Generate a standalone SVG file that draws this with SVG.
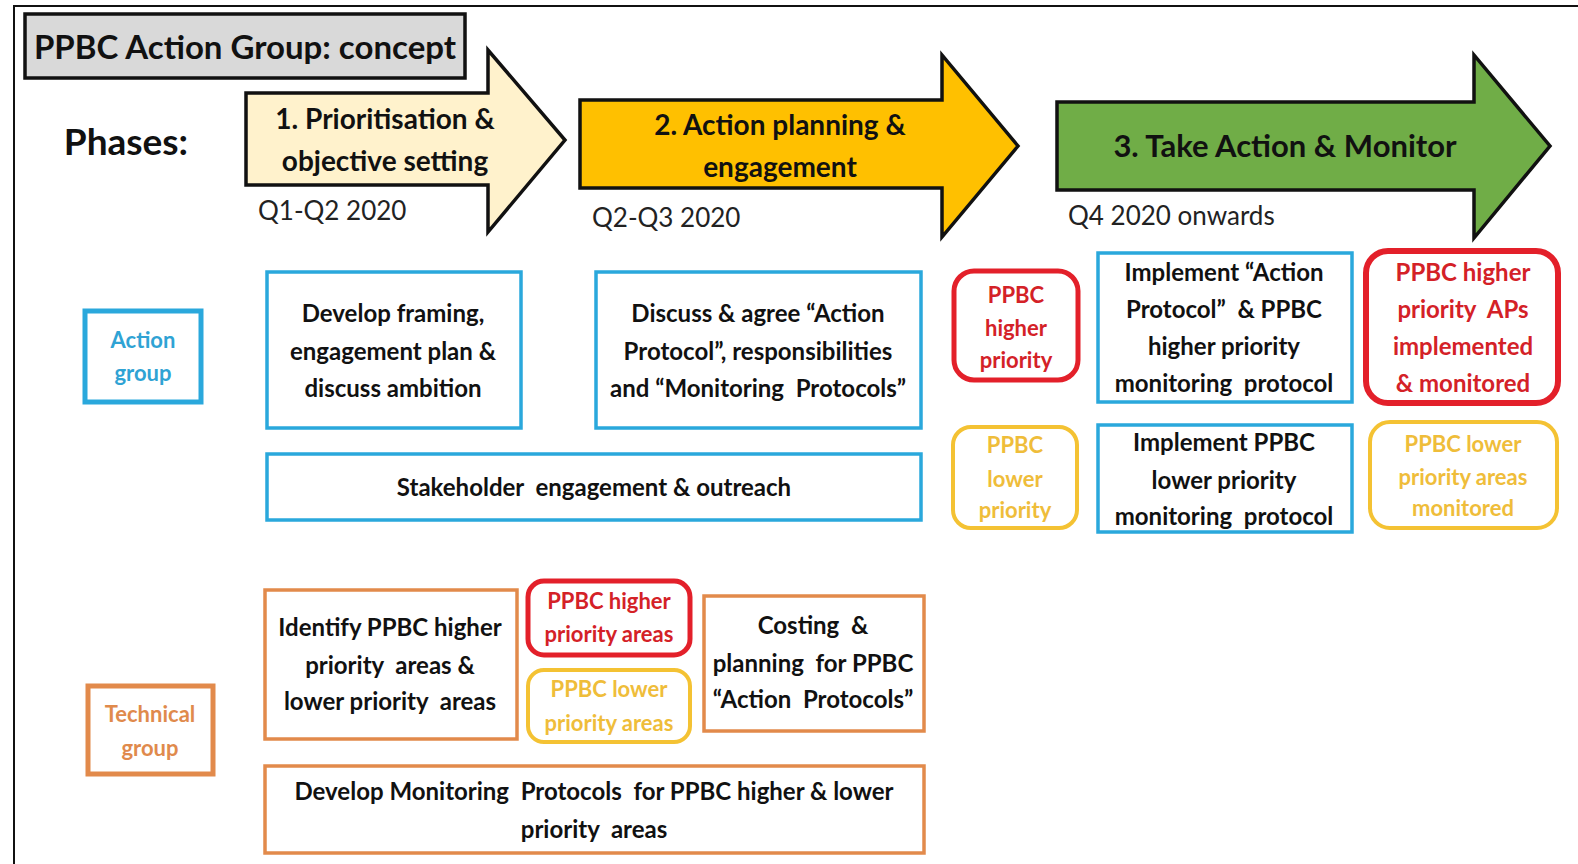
<svg xmlns="http://www.w3.org/2000/svg" width="1578" height="864" viewBox="0 0 1578 864">
<style>
text{font-family:Lato,"Open Sans","Liberation Sans",sans-serif;text-anchor:middle;white-space:pre}
.b{font-weight:bold;fill:#111}
.box{fill:#fff;stroke-width:3.5}
.blue{stroke:#2aa8dc}
.org{stroke:#e28a4b}
.red{fill:#fff;stroke:#e3202a;stroke-width:5}
.yel{fill:#fff;stroke:#f4c233;stroke-width:4}
.tr{fill:#d42127;font-weight:bold}
.ty{fill:#efbd3a;font-weight:bold}
.arrow{stroke:#111;stroke-width:3.5;stroke-linejoin:miter}
.q{fill:#222;text-anchor:start;font-size:26px}
.body{font-size:24px}
</style>
<rect width="1578" height="864" fill="#fff"/>
<path d="M14,864 V6 H1578" fill="none" stroke="#111" stroke-width="2"/>

<g id="title">
<rect x="25" y="14" width="440" height="64" fill="#d9d9d9" stroke="#111" stroke-width="3.5"/>
<text x="245" y="59" class="b" style="font-size:33px">PPBC Action Group: concept</text>
</g>
<g id="phases-label"><text x="126" y="155" class="b" style="font-size:37px">Phases:</text></g>

<g id="phase1">
<path class="arrow" fill="#fff2cc" d="M246,93 H488 V50 L565,140 L488,232 V185 H246 Z"/>
<text x="385" y="129" class="b" style="font-size:28px">1. Prioritisation &amp;</text>
<text x="385" y="171" class="b" style="font-size:28px">objective setting</text>
<text x="258" y="220" class="q">Q1-Q2 2020</text>
</g>
<g id="phase2">
<path class="arrow" fill="#ffc000" d="M580,100 H942 V55 L1018,146 L942,237 V188 H580 Z"/>
<text x="780" y="135" class="b" style="font-size:28px">2. Action planning &amp;</text>
<text x="780" y="177" class="b" style="font-size:28px">engagement</text>
<text x="592" y="227" class="q">Q2-Q3 2020</text>
</g>
<g id="phase3">
<path class="arrow" fill="#70ad47" d="M1057,102 H1474 V55 L1550,146 L1474,238 V190 H1057 Z"/>
<text x="1285" y="157" class="b" style="font-size:31px">3. Take Action &amp; Monitor</text>
<text x="1068" y="225" class="q">Q4 2020 onwards</text>
</g>

<g id="action-group">
<rect x="85" y="311" width="116" height="91" fill="#fff" stroke="#2aa8dc" stroke-width="5"/>
<text x="143" y="348" style="font-size:22px;font-weight:bold;fill:#2fa3d4">Action</text>
<text x="143" y="381" style="font-size:22px;font-weight:bold;fill:#2fa3d4">group</text>
</g>

<g id="develop-framing">
<rect class="box blue" x="267" y="272" width="254" height="156"/>
<text x="393" y="322" class="b body">Develop framing,</text>
<text x="393" y="360" class="b body">engagement plan &amp;</text>
<text x="393" y="397" class="b body">discuss ambition</text>
</g>
<g id="discuss-agree">
<rect class="box blue" x="596" y="272" width="325" height="156"/>
<text x="758" y="322" class="b body">Discuss &amp; agree “Action</text>
<text x="758" y="360" class="b body">Protocol”, responsibilities</text>
<text x="758" y="397" class="b body">and “Monitoring  Protocols”</text>
</g>
<g id="stakeholder">
<rect class="box blue" x="267" y="454" width="654" height="66"/>
<text x="594" y="496" class="b body">Stakeholder  engagement &amp; outreach</text>
</g>

<g id="ppbc-higher-1">
<rect class="red" x="954" y="271" width="124" height="109" rx="20"/>
<text x="1016" y="303" class="tr" style="font-size:22px">PPBC</text>
<text x="1016" y="336" class="tr" style="font-size:22px">higher</text>
<text x="1016" y="368" class="tr" style="font-size:22px">priority</text>
</g>
<g id="ppbc-lower-1">
<rect class="yel" x="953" y="427" width="124" height="101" rx="18"/>
<text x="1015" y="453" class="ty" style="font-size:22px">PPBC</text>
<text x="1015" y="487" class="ty" style="font-size:22px">lower</text>
<text x="1015" y="518" class="ty" style="font-size:22px">priority</text>
</g>
<g id="implement-higher">
<rect class="box blue" x="1098" y="253" width="254" height="149"/>
<text x="1224" y="281" class="b body">Implement “Action</text>
<text x="1224" y="318" class="b body">Protocol”  &amp; PPBC</text>
<text x="1224" y="355" class="b body">higher priority</text>
<text x="1224" y="392" class="b body">monitoring  protocol</text>
</g>
<g id="implement-lower">
<rect class="box blue" x="1098" y="425" width="254" height="107"/>
<text x="1224" y="451" class="b body">Implement PPBC</text>
<text x="1224" y="489" class="b body">lower priority</text>
<text x="1224" y="525" class="b body">monitoring  protocol</text>
</g>
<g id="higher-implemented">
<rect class="red" x="1366" y="251" width="192" height="152" rx="22" style="stroke-width:6"/>
<text x="1463" y="281" class="tr" style="font-size:24px">PPBC higher</text>
<text x="1463" y="318" class="tr" style="font-size:24px">priority  APs</text>
<text x="1463" y="355" class="tr" style="font-size:24px">implemented</text>
<text x="1463" y="392" class="tr" style="font-size:24px">&amp; monitored</text>
</g>
<g id="lower-monitored">
<rect class="yel" x="1370" y="422" width="187" height="106" rx="20"/>
<text x="1463" y="452" class="ty" style="font-size:22px">PPBC lower</text>
<text x="1463" y="485" class="ty" style="font-size:22px">priority areas</text>
<text x="1463" y="516" class="ty" style="font-size:22px">monitored</text>
</g>

<g id="technical-group">
<rect x="88" y="686" width="125" height="88" fill="#fff" stroke="#e28a4b" stroke-width="5"/>
<text x="150" y="722" style="font-size:22px;font-weight:bold;fill:#e08a4c">Technical</text>
<text x="150" y="756" style="font-size:22px;font-weight:bold;fill:#e08a4c">group</text>
</g>
<g id="identify">
<rect class="box org" x="265" y="590" width="252" height="149"/>
<text x="390" y="636" class="b body">Identify PPBC higher</text>
<text x="390" y="674" class="b body">priority  areas &amp;</text>
<text x="390" y="710" class="b body">lower priority  areas</text>
</g>
<g id="ppbc-higher-areas">
<rect class="red" x="528" y="581" width="162" height="74" rx="16"/>
<text x="609" y="609" class="tr" style="font-size:22px">PPBC higher</text>
<text x="609" y="642" class="tr" style="font-size:22px">priority areas</text>
</g>
<g id="ppbc-lower-areas">
<rect class="yel" x="528" y="670" width="162" height="72" rx="16"/>
<text x="609" y="697" class="ty" style="font-size:22px">PPBC lower</text>
<text x="609" y="731" class="ty" style="font-size:22px">priority areas</text>
</g>
<g id="costing">
<rect class="box org" x="704" y="596" width="220" height="135"/>
<text x="813" y="634" class="b body">Costing  &amp;</text>
<text x="813" y="672" class="b body">planning  for PPBC</text>
<text x="813" y="708" class="b body">“Action  Protocols”</text>
</g>
<g id="develop-monitoring">
<rect class="box org" x="265" y="766" width="659" height="87"/>
<text x="594" y="800" class="b body">Develop Monitoring  Protocols  for PPBC higher &amp; lower</text>
<text x="594" y="838" class="b body">priority  areas</text>
</g>
<g id="connectors"/>
</svg>
